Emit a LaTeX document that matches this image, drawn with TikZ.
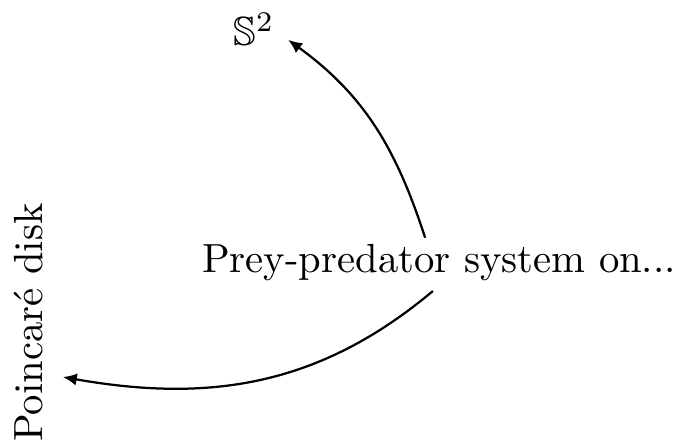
\documentclass[tikz,border=0pt]{standalone}
\usepackage{amsmath,amssymb}
\usepackage{tikz}
\usetikzlibrary{arrows.meta}
\tikzset{
  arr/.style={line width=0.55pt,-{Latex[length=3.4pt,width=3pt]}},
  lbl/.style={inner sep=1.5pt,anchor=base}
}

\begin{document}
\begin{tikzpicture}
\useasboundingbox (0,0) rectangle (5.881,3.851);
\node[lbl] (prey) at (3.791,1.494) {Prey-predator system on...};
\node[lbl] (sph) at (2.193,3.454) {$\mathbb{S}^2$};
\node[lbl,rotate=90] (disk) at (0.371,1.066) {Poincaré disk};
\draw[arr] ([xshift=-3.4pt]prey.north) to[out=108,in=-36] ([shift={(1.7pt,1.5pt)}]sph.base east);
\draw[arr] ([xshift=-1.5pt,yshift=-0.7pt]prey.south) to[out=220,in=-10] ([shift={(4.9pt,-13.4pt)}]disk.base);
\end{tikzpicture}
\end{document}
